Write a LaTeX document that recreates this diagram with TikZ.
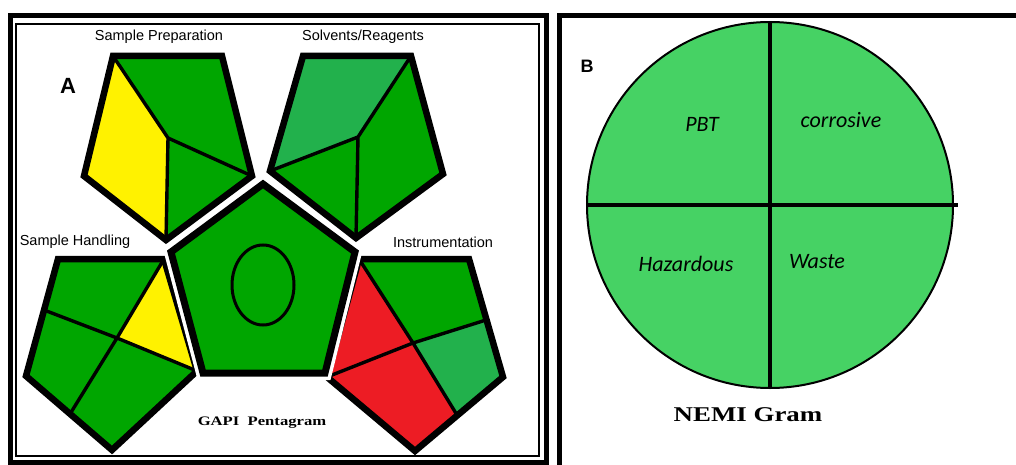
\documentclass[tikz,border=0pt]{standalone}
\usepackage{fontspec}
\setmainfont{Liberation Serif}
\setsansfont{Liberation Sans}
\newfontfamily\nemifont{Carlito}
\usepackage{graphicx}
\usepackage{tikz}
\usetikzlibrary{positioning,calc}

\definecolor{gapigreen}{RGB}{0,166,0}
\definecolor{gapilight}{RGB}{34,177,76}
\definecolor{gapiyellow}{RGB}{255,242,0}
\definecolor{gapired}{RGB}{237,28,36}
\definecolor{nemigreen}{RGB}{70,210,100}

\tikzset{
	penta/.style={draw=black,line width=6.5pt,line join=miter},
	divide/.style={draw=black,line width=3.4pt,line cap=round},
	seclabel/.style={font=\sffamily\fontsize{14.5}{16}\selectfont,inner sep=0pt},
	panellabel/.style={font=\sffamily\bfseries,inner sep=0pt},
	nemilabel/.style={font=\nemifont\itshape\fontsize{22}{24}\selectfont,inner sep=0pt,anchor=base},
	gramtitle/.style={font=\bfseries,inner sep=0pt,anchor=base},
}

\begin{document}
\begin{tikzpicture}[x=1pt,y=-1pt]
	\useasboundingbox (0,0) rectangle (1016,465);
	
	\draw[line width=5pt] (10,16) rectangle (546,462);
	\draw[line width=1.2pt] (16,24) rectangle (539,456);
	\draw[line width=5pt] (559,470) -- (559,16) -- (1022,16);
	
	\coordinate (sp-tl) at (113,56);
	\coordinate (sp-tr) at (222,56);
	\coordinate (sp-r) at (252,176);
	\coordinate (sp-b) at (166,240);
	\coordinate (sp-l) at (84,176);
	\coordinate (sp-in) at (168,138);
	\fill[gapiyellow] (sp-tl)--(sp-in)--(sp-b)--(sp-l)--cycle;
	\fill[gapigreen] (sp-tl)--(sp-tr)--(sp-r)--(sp-in)--cycle;
	\fill[gapigreen] (sp-in)--(sp-r)--(sp-b)--cycle;
	\draw[divide] (sp-tl)--(sp-in)--(sp-r) (sp-in)--(sp-b);
	\draw[penta] (sp-tl)--(sp-tr)--(sp-r)--(sp-b)--(sp-l)--cycle;
	
	\coordinate (sr-tl) at (303,56);
	\coordinate (sr-tr) at (411,56);
	\coordinate (sr-r) at (443,174);
	\coordinate (sr-b) at (356,238);
	\coordinate (sr-l) at (270,171);
	\coordinate (sr-in) at (358,137);
	\fill[gapilight] (sr-tl)--(sr-tr)--(sr-in)--(sr-l)--cycle;
	\fill[gapigreen] (sr-l)--(sr-in)--(sr-b)--cycle;
	\fill[gapigreen] (sr-tr)--(sr-r)--(sr-b)--(sr-in)--cycle;
	\draw[divide] (sr-tr)--(sr-in)--(sr-l) (sr-in)--(sr-b);
	\draw[penta] (sr-tl)--(sr-tr)--(sr-r)--(sr-b)--(sr-l)--cycle;
	
	\coordinate (sh-tl) at (58,259);
	\coordinate (sh-tr) at (164,259);
	\coordinate (sh-r) at (197,371);
	\coordinate (sh-b) at (112,450);
	\coordinate (sh-l) at (26,376);
	\coordinate (sh-in) at (117,338);
	\coordinate (sh-pl) at (44,310);
	\coordinate (sh-pb) at (70,414);
	\fill[gapigreen] (sh-tl)--(sh-tr)--(sh-in)--(sh-pl)--cycle;
	\fill[gapiyellow] (sh-tr)--(sh-r)--(sh-in)--cycle;
	\fill[gapigreen] (sh-pl)--(sh-in)--(sh-pb)--(sh-l)--cycle;
	\fill[gapigreen] (sh-in)--(sh-r)--(sh-b)--(sh-pb)--cycle;
	\draw[divide] (sh-pl)--(sh-in)--(sh-r) (sh-tr)--(sh-in)--(sh-pb);
	\draw[penta] (sh-tl)--(sh-tr)--(sh-r)--(sh-b)--(sh-l)--cycle;
	
	\coordinate (in-tl) at (359,259);
	\coordinate (in-tr) at (469,259);
	\coordinate (in-r) at (503,377);
	\coordinate (in-b) at (415,451);
	\coordinate (in-l) at (327,377);
	\coordinate (in-in) at (413,343);
	\coordinate (in-pr) at (486,320);
	\coordinate (in-pb) at (457,415);
	\fill[gapired] (in-tl)--(in-in)--(in-l)--cycle;
	\fill[gapigreen] (in-tl)--(in-tr)--(in-pr)--(in-in)--cycle;
	\fill[gapilight] (in-in)--(in-pr)--(in-r)--(in-pb)--cycle;
	\fill[gapired] (in-l)--(in-in)--(in-pb)--(in-b)--cycle;
	\draw[divide] (in-tl)--(in-in)--(in-l) (in-pr)--(in-in)--(in-pb);
	\draw[penta] (in-tl)--(in-tr)--(in-r)--(in-b)--(in-l)--cycle;
	
	\coordinate (cp-t) at (263,184);
	\coordinate (cp-r) at (355,252);
	\coordinate (cp-br) at (325,373);
	\coordinate (cp-bl) at (203,373);
	\coordinate (cp-l) at (171,252);
	\draw[white,line width=14pt,line join=miter] (cp-t)--(cp-r)--(cp-br)--(cp-bl)--(cp-l)--cycle;
	\draw[penta,fill=gapigreen,line width=7pt] (cp-t)--(cp-r)--(cp-br)--(cp-bl)--(cp-l)--cycle;
	\draw[line width=3pt] (263,285) ellipse [x radius=31pt,y radius=40pt];
	
	\node[panellabel,font=\sffamily\bfseries\fontsize{22}{24}\selectfont] (labA) at (68,86) {A};
	\node[seclabel] (labSP) at (159,37) {Sample Preparation};
	\node[seclabel] (labSR) at (363,37) {Solvents/Reagents};
	\node[seclabel] (labSH) at (75,242) {Sample Handling};
	\node[seclabel] (labIN) at (443,242) {Instrumentation};
	\node[gramtitle,font=\bfseries\fontsize{13}{15}\selectfont] (gapi) at (262,425) {\scalebox{1.28}[1]{GAPI\ \ Pentagram}};
	
	\node[circle,draw=black,line width=2pt,fill=nemigreen,minimum size=366pt,inner sep=0pt] (nemi) at (770,205) {};
	\draw[line width=3.4pt] (nemi.north) -- (nemi.south);
	\draw[line width=3.4pt] (nemi.west) -- ([xshift=4pt]nemi.east);
	\node[panellabel,font=\sffamily\bfseries\fontsize{18}{20}\selectfont] (labB) at (587,66) {B};
	\node[nemilabel] (pbt) at (702,132) {PBT};
	\node[nemilabel] (corr) at (841,128) {corrosive};
	\node[nemilabel] (haz) at (686,271) {Hazardous};
	\node[nemilabel] (waste) at (817,268) {Waste};
	\node[gramtitle,font=\bfseries\fontsize{21}{23}\selectfont] (nemititle) at (748,421) {\scalebox{1.28}[1]{NEMI Gram}};
\end{tikzpicture}
\end{document}
